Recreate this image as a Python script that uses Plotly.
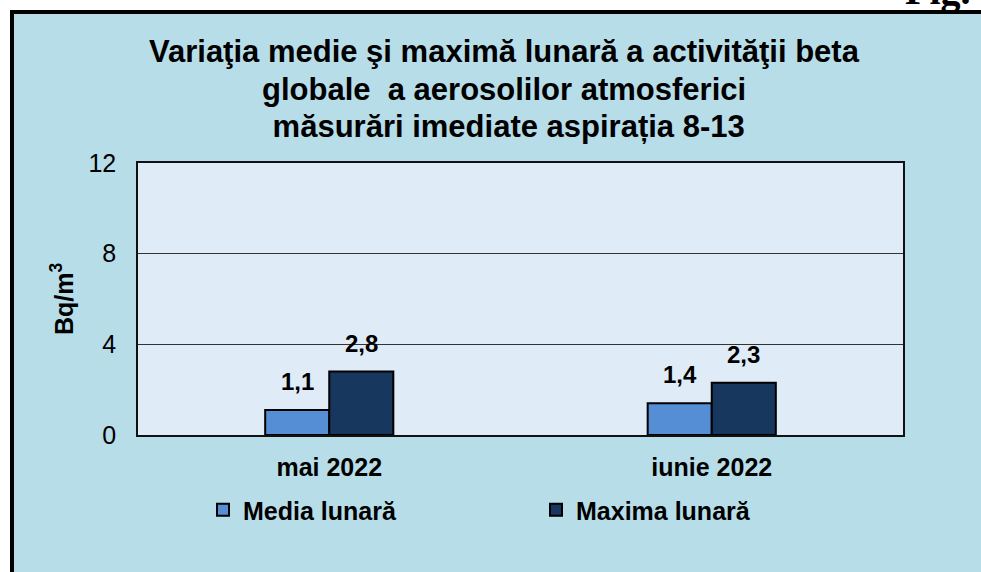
import plotly.graph_objects as go

categories = ["mai 2022", "iunie 2022"]
media_lunara = [1.1, 1.4]
maxima_lunara = [2.8, 2.3]
media_labels = ["1,1", "1,4"]
maxima_labels = ["2,8", "2,3"]
y_ticks = [0, 4, 8, 12]
title_lines = [
    "Variaţia medie şi maximă lunară a activităţii beta",
    "globale  a aerosolilor atmosferici",
    " măsurări imediate aspirația 8-13",
]

W, H = 981, 572
ML, MR, MT, MB = 138, 78, 163, 137
PW = W - ML - MR
PH = H - MT - MB

def px_x(p):
    return (p - ML) / PW

def px_y(p):
    return (H - MB - p) / PH

FONT = "Liberation Sans, Arial, sans-serif"

fig = go.Figure()
fig.add_trace(go.Bar(
    x=categories, y=media_lunara, name="Media lunară",
    marker=dict(color="#558ED5", line=dict(color="#000000", width=2)),
))
fig.add_trace(go.Bar(
    x=categories, y=maxima_lunara, name="Maxima lunară",
    marker=dict(color="#17375E", line=dict(color="#000000", width=2)),
))

annotations = []
bar_half = 32
for cat, v, t in zip(categories, media_lunara, media_labels):
    annotations.append(dict(x=cat, y=v, xref="x", yref="y", text=t, showarrow=False,
                            xshift=-bar_half, yshift=13, yanchor="bottom",
                            font=dict(family=FONT, size=24, color="#000", weight="bold")))
for cat, v, t in zip(categories, maxima_lunara, maxima_labels):
    annotations.append(dict(x=cat, y=v, xref="x", yref="y", text=t, showarrow=False,
                            xshift=bar_half, yshift=13, yanchor="bottom",
                            font=dict(family=FONT, size=24, color="#000", weight="bold")))

# title, one annotation per line
for line, yc in zip(title_lines, [52, 89, 126]):
    annotations.append(dict(
        x=px_x(504), y=px_y(yc), xref="paper", yref="paper", xanchor="center", yanchor="middle",
        text=line, showarrow=False, align="center",
        font=dict(family=FONT, size=31, color="#000", weight="bold")))
# y axis title
annotations.append(dict(
    x=px_x(62), y=0.5, xref="paper", yref="paper", xanchor="center", yanchor="middle",
    text="Bq/m<sup>3</sup>", textangle=-90, showarrow=False,
    font=dict(family=FONT, size=25, color="#000", weight="bold")))
# partial caption top-right
annotations.append(dict(
    x=px_x(903), y=px_y(15), xref="paper", yref="paper", xanchor="left", yanchor="bottom",
    text="Fig.", showarrow=False,
    font=dict(family="Liberation Serif, Times New Roman, serif", size=40, color="#000", weight="bold")))

shapes = [
    dict(type="rect", xref="paper", yref="paper", layer="below",
         x0=px_x(12), x1=px_x(W + 20), y0=px_y(H + 20), y1=px_y(12),
         fillcolor="#B7DDE8", line=dict(color="#000000", width=4)),
    dict(type="rect", xref="paper", yref="paper", layer="below",
         x0=0, x1=1, y0=0, y1=1, fillcolor="#E0EBF8", line=dict(width=0)),
]

fig.update_layout(
    width=W, height=H,
    margin=dict(l=ML, r=MR, t=MT, b=MB, pad=0),
    paper_bgcolor="#FFFFFF",
    plot_bgcolor="rgba(0,0,0,0)",
    barmode="group", bargap=0.665, bargroupgap=0,
    font=dict(family=FONT, color="#000"),
    showlegend=True,
    legend=dict(orientation="h", x=px_x(203), y=px_y(510), xanchor="left", yanchor="middle",
                bgcolor="rgba(0,0,0,0)", entrywidth=288, entrywidthmode="pixels",
                font=dict(family=FONT, size=25, color="#000", weight="bold"),
                itemsizing="constant"),
    annotations=annotations,
    shapes=shapes,
)
fig.update_xaxes(
    showline=True, linecolor="#111", linewidth=1.5, mirror=True,
    showgrid=False, ticks="", ticklabelstandoff=9,
    tickfont=dict(family=FONT, size=25, color="#000", weight="bold"),
)
fig.update_yaxes(
    range=[0, 12], tickvals=y_ticks, ticktext=[str(v) for v in y_ticks],
    showline=True, linecolor="#111", linewidth=1.5, mirror=True,
    showgrid=True, gridcolor="#333333", gridwidth=1, zeroline=False,
    ticks="", ticklabelstandoff=15,
    tickfont=dict(family=FONT, size=25, color="#000"),
)

fig.write_html(
    "out.html",
    config={"displayModeBar": False},
    post_script="document.body.style.margin='0';document.body.style.overflow='hidden';",
)
